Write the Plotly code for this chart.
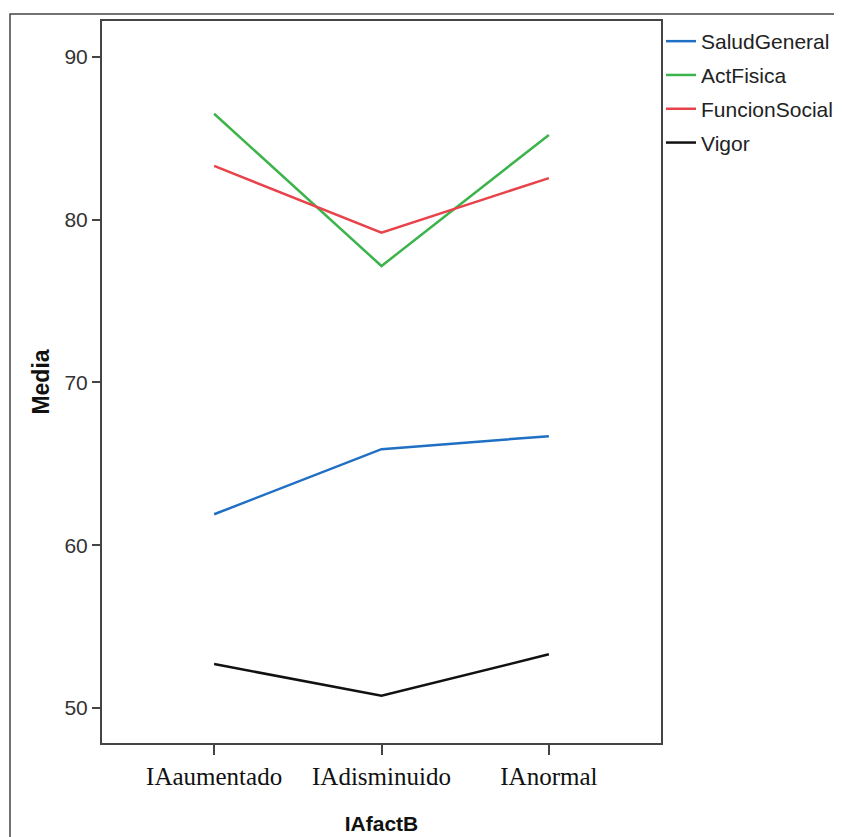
import plotly.graph_objects as go

categories = ["IAaumentado", "IAdisminuido", "IAnormal"]
series_names = ["SaludGeneral", "ActFisica", "FuncionSocial", "Vigor"]
salud_general = [61.9, 65.9, 66.7]
act_fisica = [86.5, 77.15, 85.2]
funcion_social = [83.3, 79.2, 82.55]
vigor = [52.7, 50.75, 53.3]
colors = ["#1f6fc5", "#3cb44b", "#e8434a", "#111111"]
y_ticks = [50, 60, 70, 80, 90]

OFF = 8  # page body margin
W, H = 842, 837
L, R, T, B = 102 - OFF, 661 - OFF, 21 - OFF, 743 - OFF

fig = go.Figure()
for name, vals, col in zip(series_names, [salud_general, act_fisica, funcion_social, vigor], colors):
    fig.add_trace(go.Scatter(x=[0, 1, 2], y=vals, mode="lines", name=name,
                             line=dict(color=col, width=2.5), legendgroup=name))

def px_x(p):
    return (p - OFF - L) / (R - L)

def px_y(p):
    return (B - (p - OFF)) / (B - T)

fig.add_shape(type="rect", xref="paper", yref="paper",
              x0=px_x(10), x1=px_x(841), y0=px_y(870), y1=px_y(14),
              line=dict(color="#444444", width=1.5), layer="below")

fig.update_layout(
    width=W, height=H,
    margin=dict(l=L, r=W - R, t=T, b=H - B),
    paper_bgcolor="white", plot_bgcolor="white",
    font=dict(family="Liberation Sans, Arial", color="#222222"),
    showlegend=True,
    legend=dict(x=px_x(661), y=px_y(21), xanchor="left", yanchor="top",
                font=dict(size=21, color="#222222"), tracegroupgap=3.5,
                itemwidth=30, bgcolor="rgba(0,0,0,0)"),
    xaxis=dict(range=[-0.67, 2.67], tickvals=[0, 1, 2], ticktext=categories,
               showgrid=False, zeroline=False,
               showline=True, linecolor="#444444", linewidth=2, mirror=True,
               ticks="outside", ticklen=10, tickwidth=1.5, tickcolor="#444444",
               tickfont=dict(family="Liberation Serif, Times New Roman", size=25, color="#111111"),
               title=dict(text="<b>IAfactB</b>", font=dict(size=21, color="#111111"), standoff=27)),
    yaxis=dict(range=[47.85, 92.2], tickvals=y_ticks, ticktext=[str(v) for v in y_ticks],
               showgrid=False, zeroline=False,
               showline=True, linecolor="#444444", linewidth=2, mirror=True,
               ticks="outside", ticklen=8, tickwidth=1.5, tickcolor="#444444",
               tickfont=dict(size=21, color="#333333"),
               title=dict(text="<b>Media</b>", font=dict(size=23, color="#111111"), standoff=8)),
)

fig.write_html("out.html")
